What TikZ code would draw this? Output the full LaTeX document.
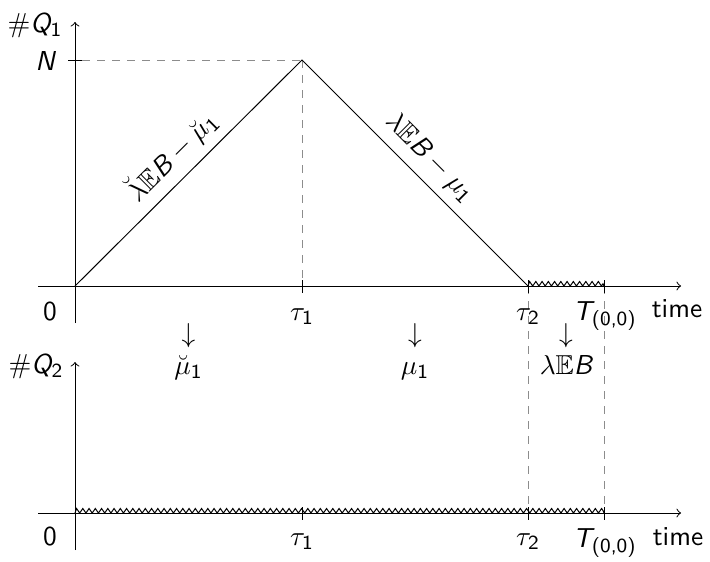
\documentclass[tikz,border=0pt]{standalone}
\usepackage{amsmath}
\usepackage{amssymb}
\usetikzlibrary{decorations.pathmorphing}
\newcommand\vi[1]{\text{\sffamily\slshape #1}}
\newcommand\vu[1]{\text{\sffamily\upshape #1}}
\begin{document}
\begin{tikzpicture}[x=0.4pt,y=-0.4pt,
  every node/.style={font=\fontsize{10.95}{13.6}\selectfont\sffamily},
  lab/.style={anchor=base, inner sep=0pt},
  guide/.style={dashed, black!45},
  wiggle/.style={decorate, decoration={zigzag, segment length=2.5pt, amplitude=0.9pt, raise=0.9pt}},
  axisline/.style={->}]
\useasboundingbox (0,0) rectangle (710,561);
% coordinates, top plot
\coordinate (xs1) at (38,286);
\coordinate (xe1) at (681,286);
\coordinate (ys1) at (75,323);
\coordinate (ye1) at (75,22);
\coordinate (O1) at (75,286);
\coordinate (Nt) at (75,60);
\coordinate (P) at (302,60);
\coordinate (a1) at (302,286);
\coordinate (b1) at (528,286);
\coordinate (c1) at (604,286);
% coordinates, bottom plot
\coordinate (xs2) at (38,513);
\coordinate (xe2) at (681,513);
\coordinate (ys2) at (75,550);
\coordinate (ye2) at (75,362);
\coordinate (O2) at (75,513);
\coordinate (a2) at (302,513);
\coordinate (b2) at (528,513);
\coordinate (c2) at (604,513);
% guides
\draw[guide] ([xshift=2.8pt]Nt) -- (P);
\draw[guide] (P) -- (a1);
\draw[guide] (b1) -- (b2);
\draw[guide] (c1) -- (c2);
% axes
\draw[axisline] (xs1) -- (xe1);
\draw[axisline] (ys1) -- (ye1);
\draw[axisline] (xs2) -- (xe2);
\draw[axisline] (ys2) -- (ye2);
% ticks
\draw ([xshift=-2.8pt]Nt) -- ([xshift=2.8pt]Nt);
\foreach \c in {a1,b1,c1,a2,b2,c2}
  \draw ([yshift=-2.6pt]\c) -- ([yshift=2.6pt]\c);
% queue length
\draw (O1) -- node[above, sloped] {$\breve{\lambda}\mathbb{E}\vi{B}-\breve{\mu}_{\vu{1}}$} (P)
           -- node[above, sloped] {$\lambda\mathbb{E}\vi{B}-\mu_{\vu{1}}$} (b1);
% idle periods
\draw[wiggle] (b1) -- (c1);
\draw[wiggle] (O2) -- (c2);
% labels top
\node[lab] (q1) at (35,32) {$\vu{\#}\vi{Q}_{\vu{1}}$};
\node[lab] (nN) at (45,70) {$\vi{N}$};
\node[lab] (z1) at (50,320) {0};
\node[lab] (lt1) at (302,320) {$\tau_{\vu{1}}$};
\node[lab] (lt2) at (528,320) {$\tau_{\vu{2}}$};
\node[lab] (lT1) at (605,320) {$\vi{T}_{\vu{(0,0)}}$};
\node[lab] (tm1) at (677,317) {time};
% rates
\node[lab] (d1) at (188.5,342) {$\downarrow$};
\node[lab] (m1) at (188.5,374) {$\breve{\mu}_{\vu{1}}$};
\node[lab] (d2) at (415,342) {$\downarrow$};
\node[lab] (m2) at (415,374) {$\mu_{\vu{1}}$};
\node[lab] (d3) at (566,342) {$\downarrow$};
\node[lab] (m3) at (566,374) {$\lambda\mathbb{E}\vi{B}$};
% labels bottom
\node[lab] (q2) at (36,373) {$\vu{\#}\vi{Q}_{\vu{2}}$};
\node[lab] (z2) at (50,545) {0};
\node[lab] (lt1b) at (302,545) {$\tau_{\vu{1}}$};
\node[lab] (lt2b) at (528,545) {$\tau_{\vu{2}}$};
\node[lab] (lT2) at (605,547) {$\vi{T}_{\vu{(0,0)}}$};
\node[lab] (tm2) at (678,545) {time};
\end{tikzpicture}
\end{document}
